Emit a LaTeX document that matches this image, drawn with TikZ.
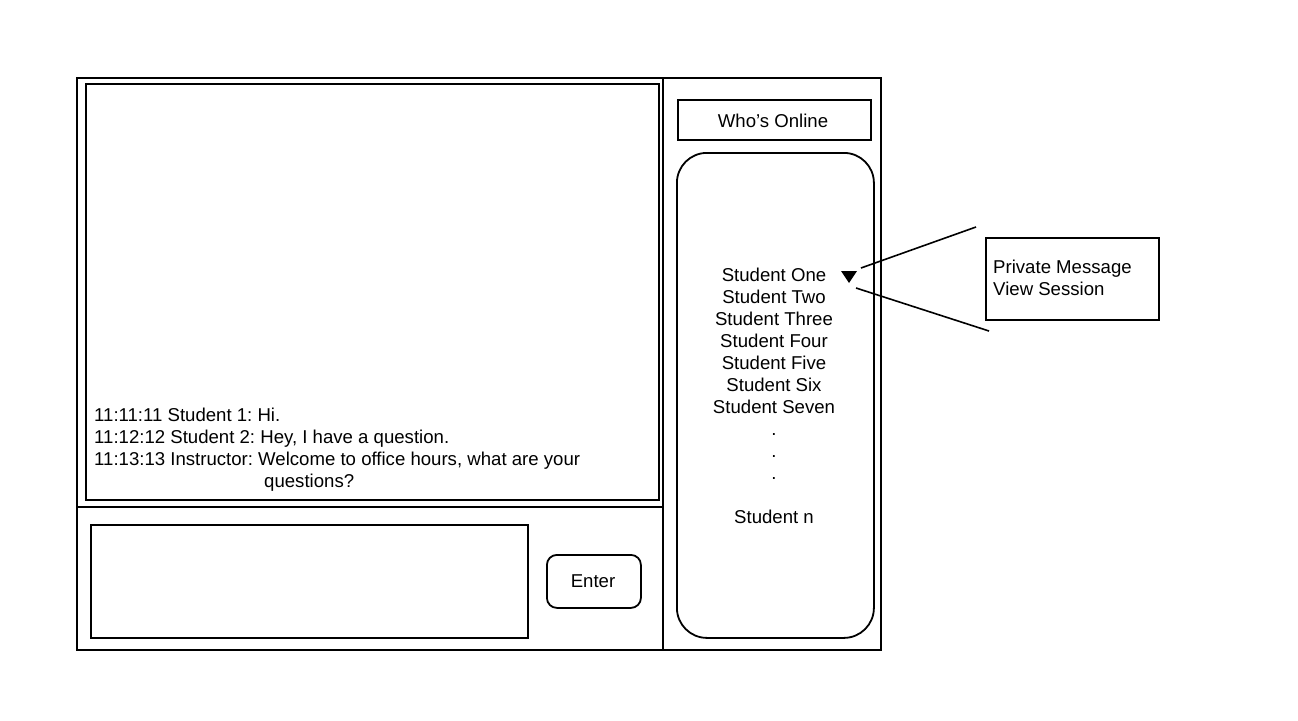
\documentclass[tikz,border=0pt]{standalone}
\usepackage{fontspec}
\setmainfont{Liberation Sans}
\frenchspacing
\begin{document}
\begin{tikzpicture}[x=1pt,y=-1pt,
  frame/.style={draw=black,line width=2pt},
  box/.style={draw=black,line width=1.8pt},
  lbl/.style={font=\fontsize{18.6}{22}\selectfont\frenchspacing,inner sep=0pt},
  link/.style={draw=black,line width=1.6pt}]
\useasboundingbox (0,0) rectangle (1298,720);
% outer frame and panes
\draw[frame] (77,78) rectangle (881,650);
\draw[frame] (663,78) -- (663,650);
\draw[frame] (77,507) -- (663,507);
% chat display
\node[box,anchor=north west,minimum width=573pt,minimum height=416pt] (chat) at (85,83) {};
\node[lbl,anchor=base west] (m1) at (94,421) {11:11:11 Student 1: Hi.};
\node[lbl,anchor=base west] (m2) at (94,443) {11:12:12 Student 2: Hey, I have a question.};
\node[lbl,anchor=base west] (m3) at (94,465) {11:13:13 Instructor: Welcome to office hours, what are your};
\node[lbl,anchor=base west] (m4) at (264,487) {questions?};
% input
\node[box,anchor=north west,minimum width=437pt,minimum height=113pt] (input) at (90,524) {};
\node[box,rounded corners=10pt,anchor=north west,minimum width=94pt,minimum height=53pt] (enter) at (546,554) {};
\node[lbl,anchor=base] (entert) at (593,587) {Enter};
% who's online
\node[box,anchor=north west,minimum width=193pt,minimum height=40pt] (who) at (677,99) {};
\node[lbl,anchor=base] (whot) at (773,127) {Who’s Online};
\node[box,rounded corners=30pt,anchor=north west,minimum width=197pt,minimum height=485pt] (list) at (676,152) {};
\foreach \t [count=\i] in {Student One,Student Two,Student Three,Student Four,Student Five,Student Six,Student Seven,.,.,.,{},Student n}
  \node[lbl,anchor=base] (s\i) at (774,{281+22*(\i-1)}) {\t};
% dropdown triangle
\fill (841,271) -- (857,271) -- (849,283) -- cycle;
\coordinate (triA) at (861,268);
\coordinate (triB) at (856,288);
\coordinate (endA) at (976,227);
\coordinate (endB) at (989,331);
\draw[link] (triA) -- (endA);
\draw[link] (triB) -- (endB);
% popup menu
\node[box,anchor=north west,minimum width=173pt,minimum height=82pt] (pm) at (985,237) {};
\node[lbl,anchor=base west] (pm1) at (993,273) {Private Message};
\node[lbl,anchor=base west] (pm2) at (993,295) {View Session};
\end{tikzpicture}
\end{document}
